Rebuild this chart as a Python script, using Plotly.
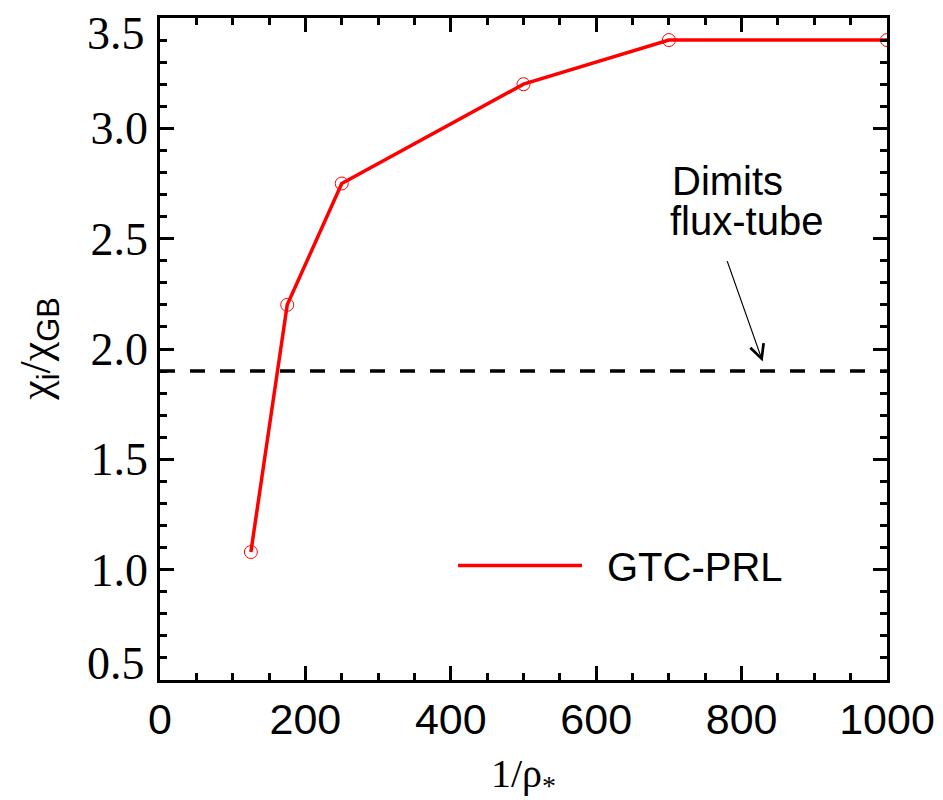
import plotly.graph_objects as go

# Data
inv_rho = [125, 175, 250, 500, 700, 1000]
chi_gtc = [1.08, 2.20, 2.75, 3.20, 3.40, 3.40]
dimits_x = [0, 1000]
dimits_y = [1.9, 1.9]

x_ticks = [0, 200, 400, 600, 800, 1000]
x_ticktext = ["0", "200", "400", "600", "800", "1000"]
y_ticks = [0.5, 1.0, 1.5, 2.0, 2.5, 3.0, 3.5]
y_ticktext = ["", "1.0", "1.5", "2.0", "2.5", "3.0", ""]

RED = "#ff0000"
SANS = "Liberation Sans, Arial, sans-serif"
SERIF = "Liberation Serif, Times New Roman, serif"

fig = go.Figure()

fig.add_trace(go.Scatter(
    x=dimits_x, y=dimits_y, mode="lines",
    line=dict(color="black", width=3.5, dash="15px,15px"),
    showlegend=False, hoverinfo="skip"))

fig.add_trace(go.Scatter(
    x=inv_rho, y=chi_gtc, mode="lines+markers",
    line=dict(color=RED, width=3.5),
    marker=dict(symbol="circle-open", size=13, color=RED, line=dict(color=RED, width=1)),
    name="GTC-PRL", showlegend=False))

axis_common = dict(
    showgrid=False, zeroline=False, showline=True, linecolor="black", linewidth=2.5,
    mirror="allticks", ticks="inside", tickcolor="black", tickwidth=2.5, ticklen=14,
)

fig.update_xaxes(
    range=[0, 1000], tickvals=x_ticks, ticktext=x_ticktext,
    tickfont=dict(family=SANS, size=43, color="black"),
    minor=dict(dtick=50, ticks="inside", ticklen=7, tickwidth=2.5, tickcolor="black"),
    **axis_common)
fig.update_yaxes(
    range=[0.5, 3.5], tickvals=y_ticks, ticktext=y_ticktext,
    tickfont=dict(family=SERIF, size=46, color="black"),
    minor=dict(dtick=0.1, ticks="inside", ticklen=7, tickwidth=2.5, tickcolor="black"),
    **axis_common)

annotations = [
    dict(text="3.5", xref="paper", yref="paper", x=-0.018, y=0.978, xanchor="right", yanchor="middle",
         height=40, valign="middle",
         showarrow=False, font=dict(family=SERIF, size=46, color="black")),
    dict(text="0.5", xref="paper", yref="paper", x=-0.018, y=0.0256, xanchor="right", yanchor="middle",
         height=40, valign="middle",
         showarrow=False, font=dict(family=SERIF, size=46, color="black")),
    dict(text="1/ρ<sub>*</sub>", xref="paper", yref="paper", x=0.5, y=-0.145, xanchor="center", yanchor="middle",
         showarrow=False, font=dict(family=SERIF, size=40, color="black")),
    dict(text="χ<span style='font-family:Liberation Sans'><sub>i</sub></span>/χ<span style='font-family:Liberation Sans'><sub>GB</sub></span>",
         xref="paper", yref="paper", x=-0.168, y=0.5, xanchor="center", yanchor="middle", textangle=-90,
         showarrow=False, font=dict(family=SERIF, size=44, color="black")),
    dict(text="Dimits", xref="x", yref="y", x=701, y=2.76, xanchor="left", yanchor="middle",
         height=36, valign="middle",
         showarrow=False, font=dict(family=SANS, size=40, color="black")),
    dict(text="flux-tube", xref="x", yref="y", x=699, y=2.58, xanchor="left", yanchor="middle",
         height=36, valign="middle",
         showarrow=False, font=dict(family=SANS, size=40, color="black")),
    dict(text="", xref="x", yref="y", x=829, y=1.943, ax=-36, ay=-102, axref="pixel", ayref="pixel",
         showarrow=True, arrowhead=5, arrowwidth=1.2, arrowsize=2.3, arrowcolor="black"),
    dict(text="GTC-PRL", xref="paper", yref="paper", x=0.612, y=0.171, xanchor="left", yanchor="middle",
         showarrow=False, font=dict(family=SANS, size=40, color="black")),
]

# The page body has an 8px default margin, so the figure is sized/margined to
# place the plot area at the same window pixels as the reference.
fig.update_layout(
    width=935, height=792,
    margin=dict(l=152, r=56, t=7, b=120),
    paper_bgcolor="white", plot_bgcolor="white",
    annotations=annotations,
    shapes=[dict(type="line", xref="paper", yref="paper", x0=0.41, x1=0.5805, y0=0.173, y1=0.173,
                 line=dict(color=RED, width=3.5))],
)

fig.write_html("out.html")
